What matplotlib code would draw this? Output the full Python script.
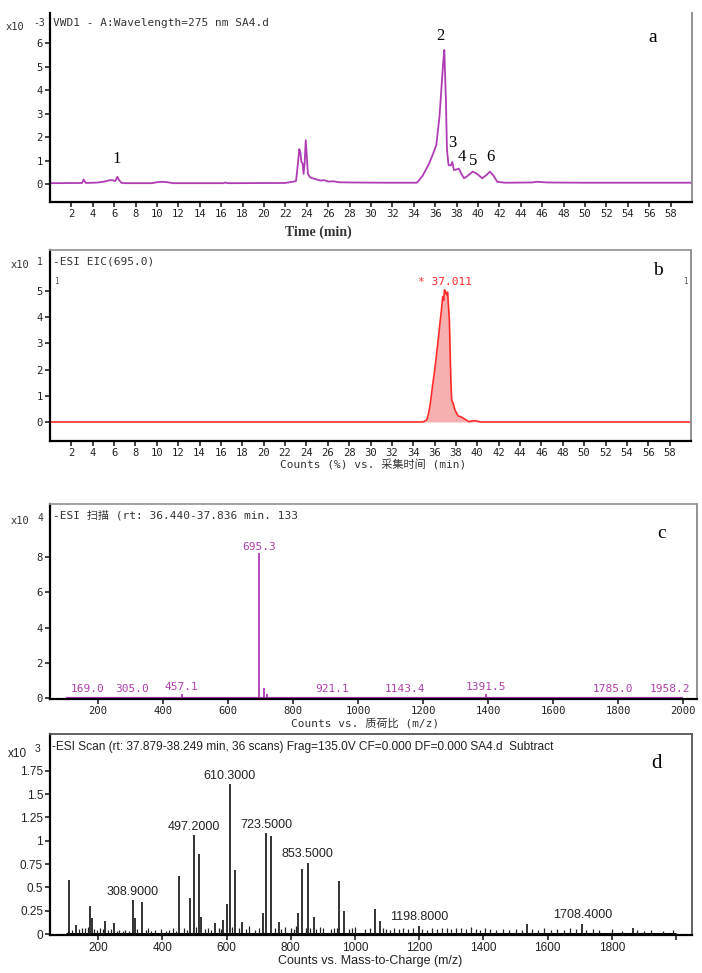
import matplotlib
matplotlib.use('Agg')
import matplotlib.pyplot as plt

MONO = ['DejaVu Sans Mono', 'Noto Sans CJK SC']
SERIF = ['Liberation Serif', 'DejaVu Serif']
SANS = ['Liberation Sans', 'DejaVu Sans']

# ---------------- Panel a: UV chromatogram (x10^-3) ----------------
uv_time = [0, 3.0, 3.15, 3.25, 3.35, 3.5, 4.5, 5.2, 5.6, 5.9, 6.1, 6.3, 6.45, 6.7, 7.2,
           9.5, 10.0, 10.5, 11.0, 11.5, 16.2, 16.4, 16.6, 22.0, 22.8, 23.0, 23.15, 23.3,
           23.4, 23.5, 23.6, 23.7, 23.8, 23.9, 24.0, 24.1, 24.3, 24.6, 25.0, 25.3, 25.6,
           26.0, 26.5, 27.0, 28.0, 31.5, 34.3, 34.8, 35.4, 35.8, 36.1, 36.4, 36.6, 36.75,
           36.85, 37.0, 37.1, 37.25, 37.45, 37.6, 37.75, 37.9, 38.2, 38.45, 38.7, 39.0,
           39.5, 39.9, 40.4, 40.8, 41.1, 41.4, 41.8, 42.5, 45.0, 45.5, 46.5, 50.0, 55.0, 59.9]
uv_abs = [0.05, 0.06, 0.21, 0.12, 0.06, 0.06, 0.08, 0.13, 0.18, 0.17, 0.14, 0.32, 0.18, 0.06, 0.05,
          0.05, 0.09, 0.11, 0.09, 0.05, 0.05, 0.08, 0.05, 0.06, 0.12, 0.15, 0.8, 1.5,
          1.35, 0.95, 0.9, 0.45, 0.9, 1.88, 1.2, 0.45, 0.3, 0.25, 0.2, 0.16, 0.18,
          0.12, 0.13, 0.09, 0.08, 0.07, 0.07, 0.35, 0.85, 1.3, 1.67, 2.88, 4.2, 5.2,
          5.72, 3.6, 1.46, 0.82, 0.8, 0.95, 0.61, 0.62, 0.67, 0.45, 0.26, 0.35,
          0.54, 0.45, 0.26, 0.4, 0.54, 0.4, 0.11, 0.07, 0.08, 0.11, 0.08, 0.07, 0.07, 0.07]
uv_peak_labels = ['1', '2', '3', '4', '5', '6']
uv_peak_pos = [(6.27, 1.06), (36.5, 6.31), (37.6, 1.77), (38.5, 1.17), (39.5, 1.0), (41.2, 1.17)]

# ---------------- Panel b: EIC 695.0 (x10^1) ----------------
eic_time = [0, 34.9, 35.27, 35.45, 35.6, 35.8, 36.05, 36.3, 36.5, 36.65, 36.76, 36.85, 36.92,
            37.0, 37.13, 37.22, 37.3, 37.38, 37.45, 37.52, 37.6, 37.75, 37.9, 38.05, 38.2,
            38.45, 38.7, 38.95, 39.2, 39.5, 39.8, 40.3, 60]
eic_counts = [0, 0, 0.08, 0.35, 0.71, 1.35, 2.11, 3.0, 3.77, 4.3, 4.78, 4.65, 5.04,
              5.0, 4.85, 4.95, 4.4, 3.9, 2.75, 1.6, 0.84, 0.7, 0.46, 0.35, 0.23,
              0.2, 0.14, 0.08, 0.01, 0.04, 0.05, 0.0, 0]

# ---------------- Panel c: MS scan (x10^4) ----------------
ms1_mz = [169.0, 305.0, 457.1, 695.3, 710.2, 718.0, 735.0, 760.0, 790.0, 921.1, 1143.4, 1391.5, 1785.0, 1958.2]
ms1_int = [0.02, 0.02, 0.25, 8.2, 0.55, 0.25, 0.08, 0.05, 0.05, 0.02, 0.02, 0.25, 0.02, 0.02]
ms1_labels = ['169.0', '305.0', '457.1', '695.3', '921.1', '1143.4', '1391.5', '1785.0', '1958.2']

# ---------------- Panel d: MS scan subtract (x10^3) ----------------
ms2_mz = [110.6, 130, 175, 180, 222, 248, 308.9, 315, 338, 452, 487, 497.2, 515, 520, 564,
          590, 601, 610.3, 627, 647, 713, 723.5, 739, 762, 824, 836, 853.5, 871, 951, 967,
          1063, 1078, 1198.8, 1535, 1708.4, 1866]
ms2_int = [0.576, 0.10, 0.30, 0.17, 0.14, 0.12, 0.36, 0.17, 0.34, 0.62, 0.39, 1.06, 0.86, 0.18, 0.12,
           0.15, 0.32, 1.61, 0.69, 0.13, 0.23, 1.085, 1.05, 0.13, 0.23, 0.70, 0.765, 0.18, 0.57, 0.245,
           0.27, 0.14, 0.09, 0.11, 0.11, 0.07]
ms2_small_mz = [105, 120, 140, 150, 160, 168, 188, 195, 205, 215, 232, 240, 258, 266, 276, 285,
                295, 322, 348, 356, 366, 376, 396, 410, 421, 432, 441, 466, 476, 505, 532, 541,
                551, 576, 584, 618, 638, 660, 671, 690, 700, 750, 771, 781, 800, 809, 816, 846,
                861, 880, 890, 900, 925, 936, 945, 980, 990, 1001, 1030, 1046, 1087, 1096, 1110,
                1121, 1136, 1151, 1166, 1181, 1210, 1226, 1240, 1256, 1270, 1286, 1300, 1316,
                1331, 1346, 1360, 1376, 1390, 1405, 1421, 1440, 1460, 1480, 1501, 1520, 1552,
                1570, 1590, 1611, 1630, 1651, 1670, 1690, 1721, 1741, 1760, 1800, 1831, 1880,
                1902, 1921, 1960, 1990]
ms2_small_int = [0.03, 0.04, 0.05, 0.07, 0.06, 0.08, 0.05, 0.04, 0.06, 0.05, 0.04, 0.05, 0.03, 0.04,
                 0.03, 0.04, 0.03, 0.05, 0.04, 0.06, 0.03, 0.04, 0.05, 0.03, 0.04, 0.06, 0.03, 0.07,
                 0.04, 0.08, 0.05, 0.06, 0.04, 0.07, 0.05, 0.08, 0.06, 0.05, 0.09, 0.04, 0.06, 0.07,
                 0.05, 0.08, 0.06, 0.05, 0.09, 0.07, 0.06, 0.05, 0.08, 0.06, 0.05, 0.07, 0.06, 0.05,
                 0.06, 0.08, 0.05, 0.07, 0.06, 0.05, 0.04, 0.06, 0.05, 0.07, 0.05, 0.06, 0.05, 0.04,
                 0.06, 0.05, 0.07, 0.06, 0.05, 0.07, 0.06, 0.05, 0.08, 0.05, 0.04, 0.06, 0.05, 0.04,
                 0.05, 0.04, 0.05, 0.04, 0.05, 0.04, 0.06, 0.04, 0.05, 0.04, 0.06, 0.05, 0.04, 0.05,
                 0.04, 0.05, 0.03, 0.04, 0.03, 0.04, 0.03, 0.04]
ms2_labels = ['308.9000', '497.2000', '610.3000', '723.5000', '853.5000', '1198.8000', '1708.4000']

W, H = 702, 973
fig = plt.figure(figsize=(W / 100, H / 100), dpi=100)


def rect(l, t, r, b):
    return [l / W, 1 - b / H, (r - l) / W, (b - t) / H]


def fx(px):
    return px / W


def fy(py):
    return 1 - py / H


def style(ax, top=True):
    for s in ['left', 'bottom']:
        ax.spines[s].set_color('black')
        ax.spines[s].set_linewidth(1.6)
    ax.spines['right'].set_color('#8a8a8a')
    ax.spines['right'].set_linewidth(1.3)
    if top:
        ax.spines['top'].set_color('#9a9a9a')
        ax.spines['top'].set_linewidth(1.3)
    else:
        ax.spines['top'].set_visible(False)
    ax.tick_params(direction='out', length=3.5, width=1.2, colors='#222222', pad=1.5)


PURPLE = '#b03cb4'
RED = '#ff2a2a'

# ---- Panel a ----
axa = fig.add_axes(rect(50, 13, 692, 202))
axa.plot(uv_time, uv_abs, color=PURPLE, lw=1.3)
axa.set_xlim(0, 60)
axa.set_ylim(-0.75, 7.29)
axa.set_xticks(range(2, 60, 2))
axa.set_yticks(range(0, 7))
style(axa, top=False)
for lab in axa.get_xticklabels() + axa.get_yticklabels():
    lab.set_fontfamily(MONO)
    lab.set_fontsize(7.6)
for lab, (t, y) in zip(uv_peak_labels, uv_peak_pos):
    axa.text(t, y, lab, family=SERIF, fontsize=12, ha='center', va='center')
fig.text(fx(53), fy(23), 'VWD1 - A:Wavelength=275 nm SA4.d', family=MONO, fontsize=8, va='center', color='#333333')
fig.text(fx(6), fy(27), 'x10', family=MONO, fontsize=7.5, va='center', color='#333333')
fig.text(fx(33), fy(23), '-3', family=MONO, fontsize=7, va='center', color='#333333')
fig.text(fx(653), fy(37), 'a', family=SERIF, fontsize=14, ha='center', va='center')
fig.text(fx(318), fy(232), 'Time (min)', family=SERIF, fontsize=10, ha='center', va='center', fontweight='bold', color='#333333')

# ---- Panel b ----
axb = fig.add_axes(rect(50, 250, 691, 441))
axb.plot(eic_time, eic_counts, color=RED, lw=1.2)
axb.fill_between(eic_time, eic_counts, 0, color='#f7a8a8', alpha=0.9, lw=0)
axb.set_xlim(0, 60)
axb.set_ylim(-0.725, 6.56)
axb.set_xticks(range(2, 60, 2))
axb.set_yticks(range(0, 6))
style(axb)
for lab in axb.get_xticklabels() + axb.get_yticklabels():
    lab.set_fontfamily(MONO)
    lab.set_fontsize(7.6)
axb.text(37.011, 5.35, '* 37.011', family=MONO, fontsize=8, color=RED, ha='center', va='center')
fig.text(fx(53), fy(261), '-ESI EIC(695.0)', family=MONO, fontsize=8, va='center', color='#333333')
fig.text(fx(54), fy(281), '1', family=MONO, fontsize=5.5, va='center', color='#555555')
fig.text(fx(683), fy(281), '1', family=MONO, fontsize=5.5, va='center', color='#555555')
fig.text(fx(11), fy(265), 'x10', family=MONO, fontsize=7.5, va='center', color='#333333')
fig.text(fx(37), fy(262), '1', family=MONO, fontsize=7, va='center', color='#333333')
fig.text(fx(658), fy(270), 'b', family=SERIF, fontsize=14, ha='center', va='center')
fig.text(fx(373), fy(465), 'Counts (%) vs. 采集时间 (min)', family=MONO, fontsize=8, ha='center', va='center', color='#333333')

# ---- Panel c ----
axc = fig.add_axes(rect(50, 504, 697, 699))
axc.hlines(0, 100, 2000, color=PURPLE, lw=1.6)
axc.vlines(ms1_mz, 0, ms1_int, color=PURPLE, lw=1.3)
axc.set_xlim(52, 2042)
axc.set_ylim(-0.05, 11)
axc.set_xticks(range(200, 2001, 200))
axc.set_yticks(range(0, 9, 2))
style(axc)
for lab in axc.get_xticklabels() + axc.get_yticklabels():
    lab.set_fontfamily(MONO)
    lab.set_fontsize(7.6)
for lab in ms1_labels:
    mz = float(lab)
    h = ms1_int[ms1_mz.index(mz)]
    axc.text(mz, max(h, 0.15) + 0.1, lab, family=MONO, fontsize=8, color='#b040b0', ha='center', va='bottom')
fig.text(fx(53), fy(515), '-ESI 扫描 (rt: 36.440-37.836 min. 133', family=MONO, fontsize=8, va='center', color='#333333')
fig.text(fx(11), fy(521), 'x10', family=MONO, fontsize=7.5, va='center', color='#333333')
fig.text(fx(38), fy(518), '4', family=MONO, fontsize=7, va='center', color='#333333')
fig.text(fx(662), fy(533), 'c', family=SERIF, fontsize=14, ha='center', va='center')
fig.text(fx(365), fy(723), 'Counts vs. 质荷比 (m/z)', family=MONO, fontsize=8, ha='center', va='center', color='#333333')

# ---- Panel d ----
axd = fig.add_axes(rect(50, 734, 692, 935))
axd.hlines(0, 100, 2000, color='black', lw=2.2)
axd.vlines(ms2_small_mz, 0, ms2_small_int, color='#222222', lw=0.9)
axd.vlines(ms2_mz, 0, ms2_int, color='#111111', lw=1.2)
axd.set_xlim(50, 2050)
axd.set_ylim(-0.01, 2.145)
axd.set_xticks(range(200, 2001, 200))
axd.set_xticklabels([str(v) for v in range(200, 1801, 200)] + [''])
axd.set_yticks([0, 0.25, 0.5, 0.75, 1, 1.25, 1.5, 1.75])
axd.set_yticklabels(['0', '0.25', '0.5', '0.75', '1', '1.25', '1.5', '1.75'])
style(axd)
axd.spines['right'].set_color('#555555')
axd.spines['top'].set_color('#555555')
for lab in axd.get_xticklabels() + axd.get_yticklabels():
    lab.set_fontfamily(SANS)
    lab.set_fontsize(8.5)
for lab in ms2_labels:
    mz = float(lab)
    h = ms2_int[ms2_mz.index(mz)]
    axd.text(mz, h + 0.025, lab, family=SANS, fontsize=9, color='#222222', ha='center', va='bottom')
fig.text(fx(52), fy(747), '-ESI Scan (rt: 37.879-38.249 min, 36 scans) Frag=135.0V CF=0.000 DF=0.000 SA4.d  Subtract',
         family=SANS, fontsize=8.6, va='center', color='#222222')
fig.text(fx(8), fy(754), 'x10', family=SANS, fontsize=8.5, va='center', color='#222222')
fig.text(fx(35), fy(749), '3', family=SANS, fontsize=7.5, va='center', color='#222222')
fig.text(fx(657), fy(763), 'd', family=SERIF, fontsize=15, ha='center', va='center')
fig.text(fx(370), fy(961), 'Counts vs. Mass-to-Charge (m/z)', family=SANS, fontsize=9, ha='center', va='center', color='#222222')

fig.savefig('out.png', dpi=100)
